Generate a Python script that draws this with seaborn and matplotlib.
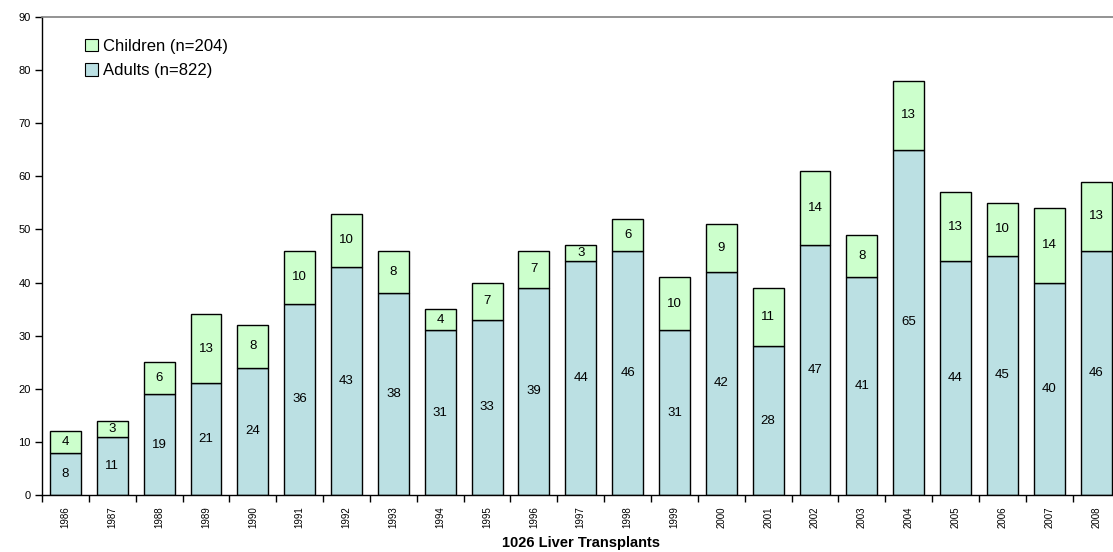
import numpy as np
import pandas as pd
import matplotlib
matplotlib.use("Agg")
import matplotlib.pyplot as plt
import seaborn as sns
from matplotlib.patches import Patch

# =====================================================
# Data
# =====================================================

years = [str(y) for y in range(1986, 2009)]

adults = [8, 11, 19, 21, 24, 36, 43, 38, 31, 33, 39, 44,
          46, 31, 42, 28, 47, 41, 65, 44, 45, 40, 46]

children = [4, 3, 6, 13, 8, 10, 10, 8, 4, 7, 7, 3,
            6, 10, 9, 11, 14, 8, 13, 13, 10, 14, 13]

df = pd.DataFrame({"year": years, "adults": adults, "children": children})

adult_color = "#BBE0E3"
child_color = "#CCFFCC"

# =====================================================
# Plot
# =====================================================

sns.set_style("white")
plt.rcParams["font.family"] = ["Liberation Sans", "DejaVu Sans"]
plt.rcParams["text.color"] = "black"
plt.rcParams["xtick.color"] = "black"
plt.rcParams["ytick.color"] = "black"
plt.rcParams["axes.labelcolor"] = "black"

fig = plt.figure(figsize=(11.13, 5.52), dpi=100)
ax = fig.add_axes([42 / 1113, 57 / 552, 1077.5 / 1113, 478 / 552])

sns.barplot(data=df, x="year", y="adults", color=adult_color,
            saturation=1, width=0.66, edgecolor="black", linewidth=1,
            ax=ax)
sns.barplot(data=df, x="year", y="children", color=child_color,
            saturation=1, width=0.66, edgecolor="black", linewidth=1,
            bottom=df["adults"], ax=ax)

# value labels
for i, (a, c) in enumerate(zip(adults, children)):
    ax.text(i, a / 2, str(a), ha="center", va="center", fontsize=9.5)
    ax.text(i, a + c / 2, str(c), ha="center", va="center", fontsize=9.5)

ax.set_xlim(-0.5, 22.5)
ax.set_ylim(0, 90)
ax.set_yticks(range(0, 91, 10))
ax.tick_params(axis="y", labelsize=8, length=5, width=1, direction="out",
               left=True, pad=3)

# x ticks at category boundaries, labels under bars
ax.set_xticks(np.arange(len(years)))
ax.set_xticklabels(years, rotation=90, fontsize=7)
ax.tick_params(axis="x", which="major", length=0, pad=8)
ax.set_xticks(np.arange(-0.5, len(years), 1), minor=True)
ax.tick_params(axis="x", which="minor", length=5, width=1,
               direction="out", bottom=True)

ax.set_xlabel("1026 Liver Transplants", fontsize=10.5, fontweight="bold",
              labelpad=6)
ax.set_ylabel("")

for side in ["left", "bottom"]:
    ax.spines[side].set_color("black")
    ax.spines[side].set_linewidth(1)
ax.spines["top"].set_color("#808080")
ax.spines["top"].set_linewidth(1.2)
ax.spines["right"].set_visible(False)

handles = [
    Patch(facecolor=child_color, edgecolor="black", linewidth=0.8,
          label="Children (n=204)"),
    Patch(facecolor=adult_color, edgecolor="black", linewidth=0.8,
          label="Adults (n=822)"),
]
ax.legend(handles=handles, loc="upper left", bbox_to_anchor=(0.026, 0.985),
          frameon=False, fontsize=12, handlelength=0.75, handleheight=0.75,
          handletextpad=0.35, labelspacing=0.55)

plt.savefig("out.png", dpi=100)
plt.close()
